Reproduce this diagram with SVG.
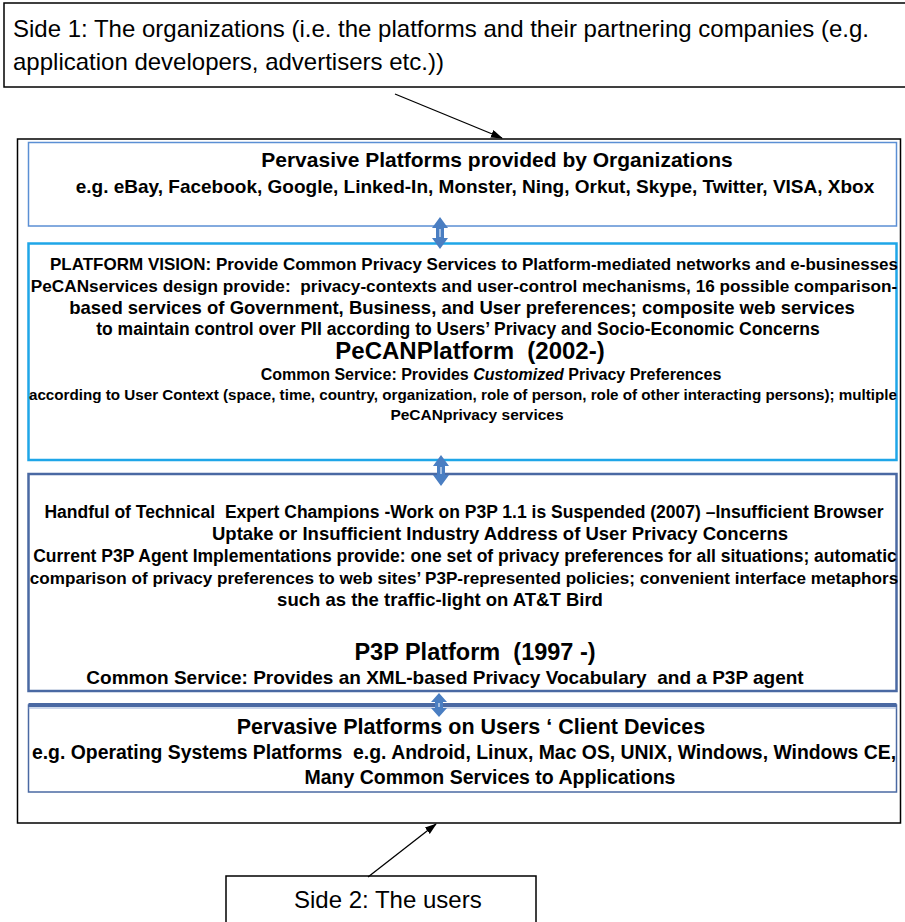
<svg xmlns="http://www.w3.org/2000/svg" width="905" height="922" viewBox="0 0 905 922">
<style>
text{font-family:"Liberation Sans",Arial,Helvetica,sans-serif;fill:#000}
.reg{font-size:24px}
.b{font-weight:bold;text-anchor:middle}
.frame{fill:#fff;stroke:#000;stroke-width:1.5}
.dbl{fill:#4A7EC2}
.conn{stroke:#000;stroke-width:1.3;fill:none}
</style>
<defs>
<marker id="ah" markerWidth="12" markerHeight="10" refX="11" refY="4" orient="auto" markerUnits="userSpaceOnUse">
<path d="M0,0 L12,4 L0,8 z" fill="#000"/>
</marker>
</defs>
<rect width="905" height="922" fill="#fff"/>

<g id="side1">
<rect x="4" y="3" width="905" height="84" class="frame"/>
<text class="reg" x="13" y="37">Side 1: The organizations (i.e. the platforms and their partnering companies (e.g.</text>
<text class="reg" x="13" y="70">application developers, advertisers etc.))</text>
</g>

<g id="outer-frame">
<rect x="17.5" y="139" width="883" height="684" class="frame"/>
</g>

<g id="box-org">
<rect x="28.5" y="142.5" width="868" height="83.5" fill="#fff" stroke="#5B8FD4" stroke-width="1.5"/>
<text class="b" x="497" y="167" font-size="21">Pervasive Platforms provided by Organizations</text>
<text class="b" x="475" y="193" font-size="19">e.g. eBay, Facebook, Google, Linked-In, Monster, Ning, Orkut, Skype, Twitter, VISA, Xbox</text>
</g>

<g id="box-pecan">
<rect x="28.5" y="243.5" width="868" height="216.5" fill="#fff" stroke="#1FA6E8" stroke-width="2.5"/>
<text class="b" x="474" y="270" font-size="17">PLATFORM VISION: Provide Common Privacy Services to Platform-mediated networks and e-businesses</text>
<text class="b" x="464" y="292" font-size="17.2" xml:space="preserve">PeCANservices design provide:  privacy-contexts and user-control mechanisms, 16 possible comparison-</text>
<text class="b" x="462" y="314" font-size="18.5">based services of Government, Business, and User preferences; composite web services</text>
<text class="b" x="458" y="335" font-size="17.5">to maintain control over PII according to Users’ Privacy and Socio-Economic Concerns</text>
<text class="b" x="470" y="359" font-size="24" xml:space="preserve">PeCANPlatform  (2002-)</text>
<text class="b" x="491" y="380" font-size="16">Common Service: Provides <tspan font-style="italic">Customized</tspan> Privacy Preferences</text>
<text class="b" x="463" y="400" font-size="15.2">according to User Context (space, time, country, organization, role of person, role of other interacting persons); multiple</text>
<text class="b" x="477" y="420" font-size="15.5">PeCANprivacy services</text>
</g>

<g id="box-p3p">
<rect x="28.5" y="474" width="868" height="217" fill="#fff" stroke="#4A69A3" stroke-width="2.5"/>
<text class="b" x="464" y="518" font-size="17.5" xml:space="preserve">Handful of Technical  Expert Champions -Work on P3P 1.1 is Suspended (2007) –Insufficient Browser</text>
<text class="b" x="500" y="540" font-size="18.5">Uptake or Insufficient Industry Address of User Privacy Concerns</text>
<text class="b" x="465" y="562" font-size="17.5">Current P3P Agent Implementations provide: one set of privacy preferences for all situations; automatic</text>
<text class="b" x="464" y="584" font-size="17.1">comparison of privacy preferences to web sites’ P3P-represented policies; convenient interface metaphors</text>
<text class="b" x="440" y="606" font-size="18.5">such as the traffic-light on AT&amp;T Bird</text>
<text class="b" x="475" y="660" font-size="23.5" xml:space="preserve">P3P Platform  (1997 -)</text>
<text class="b" x="445" y="684" font-size="19" xml:space="preserve">Common Service: Provides an XML-based Privacy Vocabulary  and a P3P agent</text>
</g>

<g id="box-client">
<rect x="28.5" y="705" width="868" height="87" fill="#fff" stroke="#4A69A3" stroke-width="1.5"/>
<line x1="28.5" y1="705" x2="896.5" y2="705" stroke="#4A69A3" stroke-width="4"/>
<line x1="28.5" y1="708" x2="896.5" y2="708" stroke="#9DB2D8" stroke-width="1"/>
<text class="b" x="471" y="734" font-size="21.5">Pervasive Platforms on Users ‘ Client Devices</text>
<text class="b" x="464" y="759" font-size="19.4" xml:space="preserve">e.g. Operating Systems Platforms  e.g. Android, Linux, Mac OS, UNIX, Windows, Windows CE,</text>
<text class="b" x="490" y="784" font-size="19.5">Many Common Services to Applications</text>
</g>

<g id="side2">
<rect x="226" y="876" width="310" height="60" class="frame"/>
<text class="reg" x="294" y="908">Side 2: The users</text>
</g>

<g id="connectors">
<line class="conn" x1="395" y1="94" x2="502" y2="138" marker-end="url(#ah)"/>
<line class="conn" x1="368" y1="877" x2="436" y2="824" marker-end="url(#ah)"/>
<path class="dbl" d="M440,217 L448,228 L444,228 L444,238 L448,238 L440,249 L432,238 L436,238 L436,228 L432,228 Z"/>
<line x1="440" y1="229" x2="440" y2="237" stroke="#fff" stroke-width="1"/>
<path class="dbl" d="M441,455 L449,466 L445,466 L445,475 L449,475 L441,486 L433,475 L437,475 L437,466 L433,466 Z"/>
<line x1="441" y1="467" x2="441" y2="474" stroke="#fff" stroke-width="1"/>
<path class="dbl" d="M439,693 L447,702 L443,702 L443,708 L447,708 L439,717 L431,708 L435,708 L435,702 L431,702 Z"/>
<line x1="439" y1="703" x2="439" y2="707" stroke="#fff" stroke-width="1"/>
</g>
</svg>
